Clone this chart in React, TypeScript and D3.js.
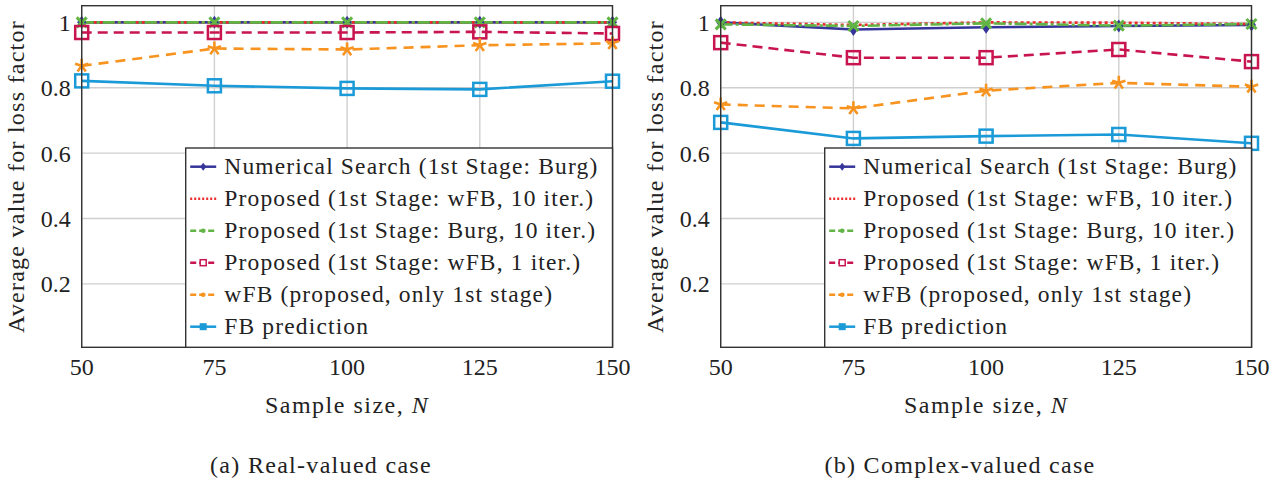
import React from "react";
import * as d3 from "d3";

// sample sizes on the x axis
const sizes = [50, 75, 100, 125, 150];
const yTicks = [0.2, 0.4, 0.6, 0.8, 1];

// (a) real-valued case
const numSearchReal = [1.0, 1.0, 1.0, 1.0, 1.0];
const wfb10Real = [1.0, 1.0, 1.0, 1.0, 1.0];
const burg10Real = [1.0, 1.0, 1.0, 1.0, 1.0];
const wfb1Real = [0.969, 0.969, 0.969, 0.971, 0.966];
const wfbOnlyReal = [0.867, 0.92, 0.917, 0.93, 0.936];
const fbReal = [0.821, 0.806, 0.798, 0.795, 0.82];

// (b) complex-valued case
const numSearchCplx = [1.0, 0.978, 0.985, 0.989, 0.992];
const wfb10Cplx = [1.0, 0.992, 1.0, 0.999, 0.995];
const burg10Cplx = [0.994, 0.989, 0.997, 0.99, 0.995];
const wfb1Cplx = [0.938, 0.892, 0.892, 0.917, 0.88];
const wfbOnlyCplx = [0.749, 0.737, 0.791, 0.815, 0.803];
const fbCplx = [0.694, 0.645, 0.652, 0.657, 0.63];

const legendNames = [
  "Numerical Search (1st Stage: Burg)",
  "Proposed (1st Stage: wFB, 10 iter.)",
  "Proposed (1st Stage: Burg, 10 iter.)",
  "Proposed (1st Stage: wFB, 1 iter.)",
  "wFB (proposed, only 1st stage)",
  "FB prediction",
];

const styles = [
  { color: "#35359a", dash: "none", mark: "diamond" },
  { color: "#ec2b2b", dash: "3 3", mark: "none" },
  { color: "#62b444", dash: "12 3 3 3", mark: "cross" },
  { color: "#c8154f", dash: "10 6", mark: "square" },
  { color: "#f7931e", dash: "10 7", mark: "star" },
  { color: "#1b9ad8", dash: "none", mark: "square" },
];

const FONT = "'Liberation Serif', 'Times New Roman', serif";
const txt = { fontFamily: FONT, fill: "#222" };

function Marker({ kind, color, x, y }) {
  if (kind === "diamond")
    return <path d={`M${x},${y - 6.5}L${x + 4.5},${y}L${x},${y + 6.5}L${x - 4.5},${y}Z`} fill={color} />;
  if (kind === "cross")
    return (
      <path
        d={`M${x - 5},${y - 5}L${x + 5},${y + 5}M${x - 5},${y + 5}L${x + 5},${y - 5}`}
        stroke={color}
        strokeWidth={3}
      />
    );
  if (kind === "square")
    return <rect x={x - 6.5} y={y - 6.5} width={13} height={13} fill="none" stroke={color} strokeWidth={2.5} />;
  if (kind === "star") {
    const arms = d3.range(5).map((i) => {
      const a = -Math.PI / 2 + (i * 2 * Math.PI) / 5;
      return `M${x},${y}L${x + 7 * Math.cos(a)},${y + 7 * Math.sin(a)}`;
    });
    return <path d={arms.join("")} stroke={color} strokeWidth={2.6} />;
  }
  return null;
}

function LegendIcon({ i, x, y }) {
  const s = styles[i];
  const line = <line x1={x} x2={x + 26} y1={y} y2={y} stroke={s.color} strokeWidth={2.5} strokeDasharray={i === 1 ? "2 2" : i >= 2 && i <= 4 ? "6 3" : "none"} />;
  let m = null;
  if (i === 0) m = <path d={`M${x + 13},${y - 4}L${x + 16},${y}L${x + 13},${y + 4}L${x + 10},${y}Z`} fill={s.color} />;
  if (i === 2 || i === 4) m = <circle cx={x + 13} cy={y} r={2.3} fill={s.color} />;
  if (i === 3) m = <rect x={x + 10} y={y - 3} width={6} height={6} fill="white" stroke={s.color} strokeWidth={1.5} />;
  if (i === 5) m = <rect x={x + 9.5} y={y - 3.5} width={7} height={7} fill={s.color} />;
  return (
    <g>
      {line}
      {m}
    </g>
  );
}

function Panel({ left, series, caption }) {
  const x = d3.scaleLinear().domain([50, 150]).range([left, left + 530.8]);
  const y = d3.scaleLinear().domain([0.006, 1.051]).range([347.3, 5.7]);
  const [x0, x1] = x.range();
  const [y0, y1] = y.range();
  const cx = (x0 + x1) / 2;
  const line = d3
    .line()
    .x((d) => x(d[0]))
    .y((d) => y(d[1]));
  const lx = left + 104;
  const ly = 148;
  return (
    <g>
      {yTicks.map((t) => (
        <line key={"gy" + t} x1={x0} x2={x1} y1={y(t)} y2={y(t)} stroke="#cfcfcf" strokeWidth={1.4} />
      ))}
      {sizes.map((t) => (
        <line key={"gx" + t} x1={x(t)} x2={x(t)} y1={y0} y2={y1} stroke="#cfcfcf" strokeWidth={1.4} />
      ))}
      {series.map((vals, i) => (
        <path
          key={"s" + i}
          d={line(sizes.map((n, k) => [n, vals[k]]))}
          fill="none"
          stroke={styles[i].color}
          strokeWidth={2.6}
          strokeDasharray={styles[i].dash}
        />
      ))}
      {series.map((vals, i) =>
        sizes.map((n, k) => (
          <Marker key={"m" + i + k} kind={styles[i].mark} color={styles[i].color} x={x(n)} y={y(vals[k])} />
        ))
      )}
      <rect x={x0} y={y1} width={x1 - x0} height={y0 - y1} fill="none" stroke="#333" strokeWidth={1.4} />
      {yTicks.map((t) => (
        <text key={"ty" + t} x={x0 - 11} y={y(t)} dy="0.35em" textAnchor="end" fontSize={24} style={txt}>
          {t === 1 ? "1" : d3.format(".1f")(t)}
        </text>
      ))}
      {sizes.map((t) => (
        <text key={"tx" + t} x={x(t)} y={375} textAnchor="middle" fontSize={24} style={txt}>
          {t}
        </text>
      ))}
      <text x={cx} y={413} textAnchor="middle" fontSize={24} letterSpacing={1.5} style={txt}>
        Sample size, <tspan fontStyle="italic">N</tspan>
      </text>
      <text x={left + 239.3} y={473} textAnchor="middle" fontSize={24} letterSpacing={1.3} style={txt}>
        {caption}
      </text>
      <text
        transform={`translate(${left - 57.5},${(y0 + y1) / 2}) rotate(-90)`}
        textAnchor="middle"
        fontSize={24}
        letterSpacing={1.25}
        style={txt}
      >
        Average value for loss factor
      </text>
      <rect x={lx} y={ly} width={x1 - lx} height={y0 - ly} fill="white" stroke="#333" strokeWidth={1.4} />
      {legendNames.map((name, i) => (
        <g key={"l" + i}>
          <LegendIcon i={i} x={lx + 4.5} y={ly + 18.7 + i * 32} />
          <text x={lx + 38.6} y={ly + 18.7 + i * 32} dy="0.33em" fontSize={23.5} letterSpacing={1.15} style={txt}>
            {name}
          </text>
        </g>
      ))}
    </g>
  );
}

export default function App() {
  return (
    <svg width={1279} height={483} style={{ position: "absolute", left: 0, top: 0, background: "white", fontFamily: FONT }}>
      <rect width={1279} height={483} fill="white" />
      <Panel
        left={81.7}
        series={[numSearchReal, wfb10Real, burg10Real, wfb1Real, wfbOnlyReal, fbReal]}
        caption="(a) Real-valued case"
      />
      <Panel
        left={720.7}
        series={[numSearchCplx, wfb10Cplx, burg10Cplx, wfb1Cplx, wfbOnlyCplx, fbCplx]}
        caption="(b) Complex-valued case"
      />
    </svg>
  );
}
